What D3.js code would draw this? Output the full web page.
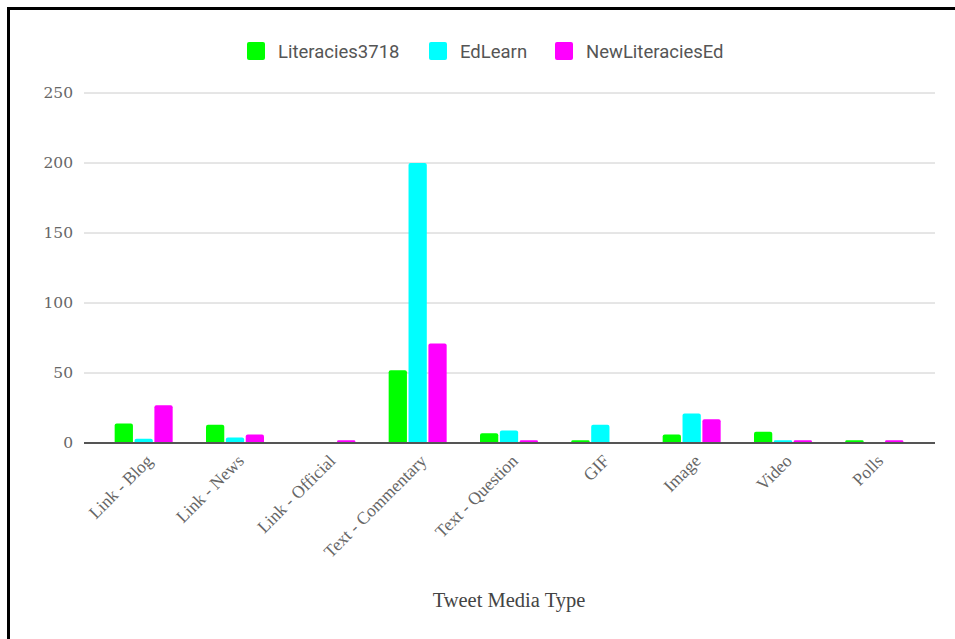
<!DOCTYPE html>
<html><head><meta charset="utf-8">
<script src="https://cdn.jsdelivr.net/npm/d3@7"></script>
<style>body{margin:0;background:#fff}svg{display:block}</style>
</head><body>
<script>
const categories = ["Link - Blog","Link - News","Link - Official","Text - Commentary","Text - Question","GIF","Image","Video","Polls"];
const seriesNames = ["Literacies3718","EdLearn","NewLiteraciesEd"];
const literacies3718 = [14,13,0,52,7,2,6,8,2];
const edLearn = [3,4,0,200,9,13,21,2,0];
const newLiteraciesEd = [27,6,2,71,2,0,17,2,2];
const yTicks = [0,50,100,150,200,250];
const colors = ["#00ff00","#00ffff","#ff00ff"];
const seriesValues = [literacies3718, edLearn, newLiteraciesEd];

const W=955,H=639;
const svg=d3.select("body").append("svg").attr("width",W).attr("height",H);

// frame
svg.append("path").attr("d","M8.5,639 L8.5,8.5 L955,8.5").attr("fill","none").attr("stroke","#000").attr("stroke-width",3);

const x=d3.scaleBand().domain(categories).range([98,920]).paddingInner(0).paddingOuter(0);
const y=d3.scaleLinear().domain([0,250]).range([443,93]);
const x1=d3.scaleBand().domain(seriesNames).range([0,58]).paddingInner(0.08);
const groupOff=(x.bandwidth()-58)/2;

// gridlines
svg.append("g").selectAll("line").data(yTicks.filter(d=>d>0)).join("line")
  .attr("x1",84).attr("x2",935).attr("y1",d=>y(d)).attr("y2",d=>y(d))
  .attr("stroke","#cccccc").attr("stroke-width",1);

// y axis labels
const yAxis=d3.axisLeft(y).tickValues(yTicks).tickSize(0).tickPadding(0);
const yg=svg.append("g").attr("transform","translate(73,0)").call(yAxis);
yg.select(".domain").remove();
yg.selectAll("text").attr("font-family","'DejaVu Serif',serif").attr("font-size",15.5).attr("fill","#666");

// bars
const data=[];
categories.forEach((c,i)=>seriesNames.forEach((s,j)=>data.push({c,s,v:seriesValues[j][i],j})));
svg.append("g").selectAll("path").data(data.filter(d=>d.v>0)).join("path")
  .attr("fill",d=>colors[d.j])
  .attr("d",d=>{
    const x0=x(d.c)+groupOff+x1(d.s), w=x1.bandwidth();
    const yt=y(d.v), yb=y(0), r=Math.min(2,(yb-yt)/2);
    return `M${x0},${yb} L${x0},${yt+r} Q${x0},${yt} ${x0+r},${yt} L${x0+w-r},${yt} Q${x0+w},${yt} ${x0+w},${yt+r} L${x0+w},${yb} Z`;
  });

// baseline
svg.append("line").attr("x1",84).attr("x2",935).attr("y1",y(0)).attr("y2",y(0)).attr("stroke","#555").attr("stroke-width",2);

// x axis labels
const xAxis=d3.axisBottom(x).tickSize(0).tickPadding(0);
const xg=svg.append("g").attr("transform",`translate(0,${y(0)})`).call(xAxis);
xg.select(".domain").remove();
xg.selectAll("text")
  .attr("font-family","'Liberation Serif','DejaVu Serif',serif").attr("font-size",17.5).attr("fill","#666")
  .attr("text-anchor","end").attr("dy",null).attr("y",0)
  .attr("transform","translate(10,19) rotate(-45)");

// x title
svg.append("text").attr("x",509).attr("y",607).attr("text-anchor","middle")
  .attr("font-family","'Liberation Serif','DejaVu Serif',serif").attr("font-size",20.5).attr("fill","#444")
  .text("Tweet Media Type");

// legend
const legendX=[247,429,555];
const lg=svg.append("g").selectAll("g").data(seriesNames).join("g")
  .attr("transform",(d,i)=>`translate(${legendX[i]},42)`);
lg.append("rect").attr("width",18).attr("height",18).attr("rx",2).attr("fill",(d,i)=>colors[i]);
lg.append("text").attr("x",31).attr("y",15.5).text(d=>d)
  .attr("font-family","Roboto,'Noto Sans',sans-serif").attr("font-size",18.5).attr("fill","#555");
</script>
</body></html>
